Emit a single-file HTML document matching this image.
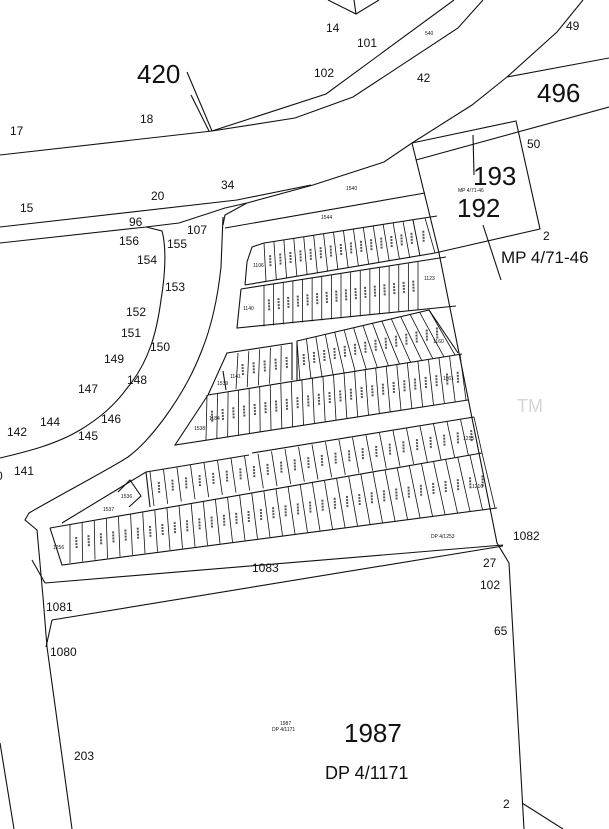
<!DOCTYPE html>
<html><head><meta charset="utf-8"><style>
html,body{margin:0;padding:0;background:#fff;}
svg{display:block;}
text{font-family:"Liberation Sans",sans-serif;fill:#111;}
</style></head><body>
<svg id="s" width="609" height="829" viewBox="0 0 609 829" xmlns="http://www.w3.org/2000/svg">
<g fill="none" stroke="#111" stroke-width="1.1">
<polyline points="0,155 212,131 326,94 454,0"/>
<polyline points="212,131 295,118 353,97 458,28 483,0"/>
<line x1="187" y1="72" x2="212" y2="131"/>
<line x1="191" y1="95" x2="209" y2="131"/>
<polyline points="328,0 356,14 379,0"/>
<line x1="354" y1="0" x2="356" y2="14"/>
<polyline points="583,0 557,32 507,77 472,105 412,143 384,162 313,185 247,203 225,215 223,225"/>
<line x1="507" y1="77" x2="609" y2="58"/>
<polyline points="412,143 516,121 540,229 435,253 245,285"/>
<line x1="416" y1="160" x2="609" y2="107"/>
<line x1="473" y1="135" x2="474" y2="175"/>
<line x1="483" y1="225" x2="501" y2="280"/>
<polyline points="412,143 439,253 497,543 509,563 524,829"/>
<polyline points="0,227 237,200 311,185"/>
<polyline points="0,243 146,227 179,223 225,208 247,203"/>
<path d="M146,227 L162,231 C166,245 166,270 161,300 C157,330 150,360 128,387 C115,405 100,418 80,430 C55,445 25,452 0,458"/>
<line x1="225" y1="228" x2="425" y2="193"/>
<path d="M223,217 L221,267 C218,295 212,325 202,350 C195,368 185,390 163,420 C150,437 140,448 128,457 C115,466 60,495 29,513 L25,520 L37,530 L43,597 L47,647 L72,829"/>
<line x1="0" y1="743" x2="14" y2="829"/>
<polyline points="45,583 503,545"/>
<polyline points="52,620 503,546"/>
<polyline points="52,620 46,647"/>
<line x1="32" y1="560" x2="45" y2="583"/>
<line x1="522" y1="803" x2="563" y2="829"/>
<polyline points="264,243 252,247 247,262 245,285"/>
<line x1="264" y1="243" x2="437" y2="216"/>
<polyline points="241,289 446,257"/>
<polyline points="241,289 237,328 456,306"/>
<polyline points="208,395 227,353 292,343 292,380"/>
<polyline points="297,381 297,341 429,310 458,353"/>
<line x1="208" y1="395" x2="462" y2="354"/>
<polyline points="208,395 175,445 468,400"/>
<line x1="223" y1="371" x2="226" y2="390"/>
<polyline points="62,523 146,472 249,455"/>
<line x1="252" y1="453" x2="474" y2="417"/>
<line x1="146" y1="472" x2="150" y2="507"/>
<line x1="50" y1="528" x2="482" y2="453"/>
<polyline points="50,528 62,565 497,508"/>
<polyline points="118,492 130,480 141,496 129,507"/>
</g>
<g id="div" stroke="#111" stroke-width="0.8"></g>
<g font-size="12">
<text x="326" y="32">14</text><text x="357" y="47">101</text><text x="314" y="77">102</text>
<text x="417" y="82">42</text><text x="566" y="30">49</text><text x="10" y="135">17</text>
<text x="140" y="123">18</text><text x="527" y="148">50</text><text x="221" y="189">34</text>
<text x="151" y="200">20</text><text x="20" y="212">15</text><text x="129" y="226">96</text>
<text x="187" y="234">107</text><text x="119" y="245">156</text><text x="167" y="248">155</text>
<text x="137" y="264">154</text><text x="165" y="291">153</text><text x="543" y="240">2</text>
<text x="126" y="316">152</text><text x="121" y="337">151</text><text x="150" y="351">150</text>
<text x="104" y="363">149</text><text x="127" y="384">148</text><text x="78" y="393">147</text>
<text x="101" y="423">146</text><text x="40" y="426">144</text><text x="78" y="440">145</text>
<text x="7" y="436">142</text><text x="14" y="475">141</text><text x="-4" y="480">0</text>
<text x="513" y="540">1082</text><text x="483" y="567">27</text><text x="480" y="589">102</text>
<text x="252" y="572">1083</text><text x="46" y="611">1081</text><text x="50" y="656">1080</text>
<text x="494" y="635">65</text><text x="74" y="760">203</text><text x="503" y="808">2</text>
</g>
<g font-size="5"><text x="425" y="35">540</text><text x="346" y="190">1540</text><text x="321" y="219">1544</text>
<text x="253" y="267">1106</text><text x="243" y="310">1140</text><text x="424" y="280">1123</text>
<text x="230" y="378">1141</text><text x="217" y="385">1539</text><text x="209" y="420">1184</text>
<text x="194" y="430">1538</text><text x="433" y="343">1160</text><text x="443" y="380">1161</text>
<text x="463" y="440">1215</text><text x="472" y="488">1216</text><text x="53" y="549">1256</text>
<text x="121" y="498">1536</text><text x="103" y="511">1537</text><text x="431" y="538">DP 4/1253</text>
<text x="280" y="725">1987</text><text x="272" y="731">DP 4/1171</text><text x="458" y="192">MP 4/71-46</text></g>
<g font-size="26"><text x="137" y="83">420</text><text x="537" y="102">496</text>
<text x="473" y="185">193</text><text x="457" y="217">192</text><text x="344" y="742">1987</text></g>
<text x="501" y="263" font-size="17">MP 4/71-46</text>
<text x="325" y="779" font-size="18">DP 4/1171</text>
<text x="517" y="412" font-size="18" style="fill:#d6d6d6">TM</text>
</svg>
<script>
var g=document.getElementById('div');
function L(a,b,t){return [a[0]+(b[0]-a[0])*t,a[1]+(b[1]-a[1])*t];}
function row(P0,P1,Q0,Q1,n){for(var i=0;i<=n;i++){var t=i/n,p=L(P0,P1,t),q=L(Q0,Q1,t);
var l=document.createElementNS('http://www.w3.org/2000/svg','line');
l.setAttribute('x1',p[0]);l.setAttribute('y1',p[1]);l.setAttribute('x2',q[0]);l.setAttribute('y2',q[1]);g.appendChild(l);
if(i<n){var r=L(P0,P1,t+0.5/n),s=L(Q0,Q1,t+0.5/n);var m=document.createElementNS('http://www.w3.org/2000/svg','line');
m.setAttribute('x1',(r[0]+s[0])/2);m.setAttribute('y1',(r[1]+s[1])/2-6);m.setAttribute('x2',(r[0]+s[0])/2+0.5);m.setAttribute('y2',(r[1]+s[1])/2+6);m.setAttribute('stroke-width','2');m.setAttribute('stroke','#555');m.setAttribute('stroke-dasharray','2 1');g.appendChild(m);}}}
row([264,243],[413,220],[266,281],[420,256],15);
row([413,220],[425,218],[420,256],[435,253],1);
row([264,285.5],[418,262],[264,326.5],[418,310],16);
row([238,353],[292,344],[236,389],[292,380],5);
row([297,341],[429,310],[300,381],[455,355],14);
row([207,395],[460,354],[206,440],[466,400],24);
row([150,472],[474,417],[154,506],[482,453],24);
row([70,525],[482,453],[70,563],[495,508],34);
</script>
</body></html>
